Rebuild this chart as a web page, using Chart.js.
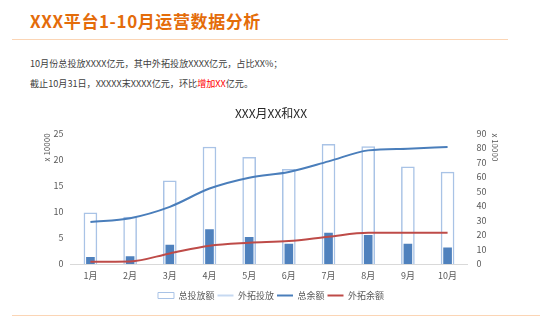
<!DOCTYPE html>
<html>
<head>
<meta charset="utf-8">
<script src="https://cdn.jsdelivr.net/npm/chart.js@4.4.1/dist/chart.umd.min.js"></script>
<style>
  html, body { margin: 0; padding: 0; background: #fff; }
  body { width: 555px; height: 330px; position: relative; overflow: hidden;
         font-family: "Noto Sans CJK SC", "Noto Sans", sans-serif; }
  .head { position: absolute; left: 30px; top: 8px; font-size: 17px; font-weight: bold;
          color: #e46c0a; letter-spacing: 0.6px; }
  .rule { position: absolute; left: 12px; width: 496px; height: 1px; background: #fbd5b5; }
  .note { position: absolute; left: 30px; font-size: 9.1px; color: #404040; }
  .note em { font-style: normal; color: #ff0000; }
  #wrap { position: absolute; left: 0; top: 100px; width: 555px; height: 210px; }
</style>
</head>
<body>
<div class="head">XXX平台1-10月运营数据分析</div>
<div class="rule" style="top:39px"></div>
<div class="note" style="top:56px">10月份总投放XXXX亿元，其中外拓投放XXXX亿元，占比XX%；</div>
<div class="note" style="top:76px">截止10月31日，XXXXX末XXXX亿元，环比<em>增加XX</em>亿元。</div>
<div id="wrap"><canvas id="ops"></canvas></div>
<div class="rule" style="top:315px; width:528px"></div>

<script>
  var months = ["1月", "2月", "3月", "4月", "5月", "6月", "7月", "8月", "9月", "10月"];
  // bars, left axis (x 10000)
  var totalPut = [9.8, 9.0, 15.9, 22.4, 20.4, 18.1, 22.9, 22.5, 18.6, 17.6];
  var outerPut = [1.3, 1.4, 3.6, 6.6, 5.1, 3.8, 5.9, 5.5, 3.8, 3.1];
  // lines, right axis (x 10000)
  var totalBal = [29, 31.6, 39.4, 52, 59.5, 63.4, 70.7, 78.3, 79.5, 80.6];
  var outerBal = [1.6, 1.8, 7.3, 12.6, 14.6, 15.8, 18.8, 21.5, 21.5, 21.5];

  var tickFont = { family: "'Noto Sans CJK SC', sans-serif", size: 9 };
  var grey = '#595959';

  var ctx = document.getElementById('ops').getContext('2d');
  var opsChart = new Chart(ctx, {
    type: 'bar',
    data: {
      labels: months,
      datasets: [{
        label: '总投放额',
        data: totalPut,
        yAxisID: 'y',
        backgroundColor: '#ffffff',
        borderColor: '#a9c3e6',
        borderWidth: 1.5,
        barThickness: 13,
        grouped: false,
        order: 3
      }, {
        label: '外拓投放',
        data: outerPut,
        yAxisID: 'y',
        backgroundColor: '#4f81bd',
        barThickness: 8,
        grouped: false,
        order: 2
      }, {
        type: 'line',
        label: '总余额',
        data: totalBal,
        yAxisID: 'y1',
        borderColor: '#4a7ebb',
        borderWidth: 2,
        pointRadius: 0,
        cubicInterpolationMode: 'monotone',
        order: 1
      }, {
        type: 'line',
        label: '外拓余额',
        data: outerBal,
        yAxisID: 'y1',
        borderColor: '#be4b48',
        borderWidth: 2,
        pointRadius: 0,
        cubicInterpolationMode: 'monotone',
        order: 0
      }]
    },
    options: {
      responsive: true,
      maintainAspectRatio: false,
      animation: false,
      layout: { padding: { left: 40, right: 53, top: 0, bottom: 0 } },
      plugins: {
        title: {
          display: true,
          text: 'XXX月XX和XX',
          color: '#262626',
          font: { family: "'Noto Sans CJK SC', sans-serif", size: 12, weight: 'normal' },
          padding: { top: 6, bottom: 13 }
        },
        legend: {
          position: 'bottom',
          labels: {
            usePointStyle: true,
            pointStyleWidth: 16,
            boxHeight: 6,
            color: grey,
            font: { family: "'Noto Sans CJK SC', sans-serif", size: 9 },
            padding: 3,
            generateLabels: function (chart) {
              var styles = [
                { pointStyle: 'rect', fillStyle: '#ffffff', strokeStyle: '#a9c3e6', lineWidth: 1 },
                { pointStyle: 'line', fillStyle: '#c6d9f1', strokeStyle: '#c6d9f1', lineWidth: 2 },
                { pointStyle: 'line', fillStyle: '#4a7ebb', strokeStyle: '#4a7ebb', lineWidth: 2 },
                { pointStyle: 'line', fillStyle: '#be4b48', strokeStyle: '#be4b48', lineWidth: 2 }
              ];
              return chart.data.datasets.map(function (ds, i) {
                return Object.assign({ text: ds.label, datasetIndex: i, fontColor: grey }, styles[i]);
              });
            }
          }
        },
        tooltip: { enabled: false }
      },
      scales: {
        x: {
          grid: { display: false, drawTicks: false },
          border: { color: '#d9d9d9' },
          ticks: { color: grey, font: tickFont, padding: 6.6 }
        },
        y: {
          position: 'left',
          min: 0,
          max: 25,
          grid: { display: false, drawTicks: false },
          border: { display: false },
          ticks: { stepSize: 5, color: grey, font: tickFont, padding: 7 },
          title: { display: true, text: 'x 10000', align: 'end', color: grey,
                   font: { family: "'Noto Sans CJK SC', sans-serif", size: 8 }, padding: { top: 2, bottom: -5 } }
        },
        y1: {
          position: 'right',
          min: 0,
          max: 90,
          grid: { display: false, drawTicks: false },
          border: { display: false },
          ticks: { stepSize: 10, color: grey, font: tickFont, padding: 9 },
          title: { display: true, text: 'x 10000', align: 'end', color: grey,
                   font: { family: "'Noto Sans CJK SC', sans-serif", size: 8 }, padding: { top: 2, bottom: -5 } }
        }
      }
    }
  });
</script>
</body>
</html>
